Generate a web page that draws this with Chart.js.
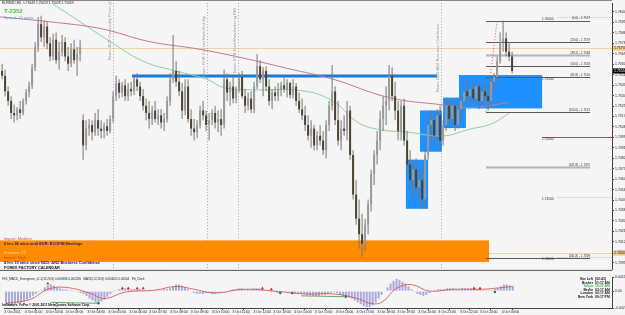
<!DOCTYPE html>
<html><head><meta charset="utf-8">
<script src="https://cdn.jsdelivr.net/npm/chart.js@4.4.1/dist/chart.umd.min.js"></script>
<style>
html,body{margin:0;padding:0;background:#f5f5f5;}
#wrap{position:relative;width:625px;height:315px;overflow:hidden;background:#f5f5f5;}
canvas{position:absolute;left:0;}
#c1{top:0;}#c2{top:273px;}
</style></head><body>
<div id="wrap"><canvas id="c1" width="625" height="273"></canvas><canvas id="c2" width="625" height="42"></canvas></div>
<script>
// ---------------- DATA ----------------
const symbolInfo = "EURNZD,M5  1.75649 1.75659 1.75628 1.75639";
const timerText = "T-2352";
const spreadText = "Spread: 19 points";

const opens = [1.7555,1.7551,1.7538,1.7530,1.7520,1.7518,1.7523,1.7520,1.7530,1.7537,
1.7543,1.7558,1.7575,1.7594,1.7583,1.7592,1.7578,1.7567,1.7581,1.7564,
1.7571,1.7579,1.7567,1.7561,1.7573,1.7564,1.7569,1.7514,1.7493,1.7507,
1.7510,1.7504,1.7514,1.7507,1.7505,1.7509,1.7505,1.7515,1.7534,1.7545,
1.7537,1.7543,1.7534,1.7540,1.7538,1.7548,1.7542,1.7534,1.7526,1.7520,
1.7515,1.7522,1.7515,1.7518,1.7512,1.7515,1.7530,1.7548,1.7555,1.7546,
1.7538,1.7522,1.7542,1.7515,1.7507,1.7504,1.7510,1.7522,1.7518,1.7510,
1.7514,1.7520,1.7512,1.7515,1.7510,1.7548,1.7537,1.7542,1.7532,1.7540,
1.7550,1.7534,1.7526,1.7532,1.7523,1.7542,1.7559,1.7548,1.7555,1.7542,
1.7530,1.7537,1.7534,1.7540,1.7543,1.7540,1.7545,1.7535,1.7542,1.7530,
1.7523,1.7518,1.7510,1.7501,1.7507,1.7493,1.7501,1.7497,1.7489,1.7510,
1.7526,1.7538,1.7514,1.7497,1.7507,1.7505,1.7522,1.7485,1.7452,1.7432,
1.7419,1.7411,1.7427,1.7444,1.7469,1.7485,1.7497,1.7515,1.7526,1.7530,
1.7551,1.7534,1.7522,1.7505,1.7526,1.7497,1.7477,1.7464,1.7473,1.7458,
1.7464,1.7448,1.7485,1.7510,1.7514,1.7501,1.7518,1.7497,1.7510,1.7526,
1.7515,1.7526,1.7510,1.7523,1.7530,1.7538,1.7534,1.7540,1.7532,1.7542,
1.7530,1.7538,1.7534,1.7530,1.7546,1.7550,1.7563,1.7579,1.7582,1.7571,
1.7567];
const highs = [1.7561,1.7556,1.7542,1.7534,1.7527,1.7525,1.7530,1.7532,1.7540,1.7546,
1.7561,1.7579,1.7600,1.7601,1.7597,1.7596,1.7583,1.7586,1.7587,1.7579,
1.7585,1.7583,1.7575,1.7578,1.7581,1.7575,1.7581,1.7519,1.7514,1.7515,
1.7514,1.7520,1.7523,1.7514,1.7512,1.7515,1.7518,1.7538,1.7551,1.7548,
1.7546,1.7548,1.7545,1.7546,1.7551,1.7553,1.7546,1.7540,1.7532,1.7530,
1.7526,1.7530,1.7523,1.7523,1.7520,1.7534,1.7553,1.7585,1.7563,1.7555,
1.7545,1.7548,1.7548,1.7523,1.7515,1.7514,1.7526,1.7530,1.7522,1.7520,
1.7523,1.7526,1.7522,1.7523,1.7556,1.7553,1.7546,1.7551,1.7542,1.7553,
1.7555,1.7540,1.7537,1.7538,1.7546,1.7569,1.7564,1.7558,1.7559,1.7548,
1.7540,1.7542,1.7545,1.7546,1.7550,1.7548,1.7546,1.7548,1.7545,1.7537,
1.7532,1.7526,1.7518,1.7514,1.7510,1.7505,1.7510,1.7505,1.7514,1.7530,
1.7560,1.7542,1.7530,1.7514,1.7518,1.7530,1.7526,1.7489,1.7464,1.7448,
1.7436,1.7432,1.7448,1.7473,1.7489,1.7505,1.7522,1.7534,1.7542,1.7560,
1.7558,1.7546,1.7530,1.7530,1.7532,1.7505,1.7489,1.7481,1.7482,1.7473,
1.7477,1.7489,1.7518,1.7522,1.7520,1.7523,1.7526,1.7514,1.7530,1.7532,
1.7530,1.7530,1.7528,1.7534,1.7542,1.7548,1.7542,1.7545,1.7546,1.7545,
1.7542,1.7546,1.7542,1.7550,1.7553,1.7567,1.7587,1.7597,1.7587,1.7578,
1.7571];
const lows = [1.7548,1.7534,1.7526,1.7515,1.7512,1.7514,1.7515,1.7518,1.7527,1.7533,
1.7540,1.7555,1.7571,1.7579,1.7575,1.7573,1.7563,1.7564,1.7561,1.7556,
1.7567,1.7563,1.7555,1.7558,1.7561,1.7551,1.7563,1.7481,1.7489,1.7501,
1.7497,1.7501,1.7501,1.7499,1.7499,1.7501,1.7503,1.7512,1.7530,1.7532,
1.7533,1.7530,1.7530,1.7534,1.7535,1.7538,1.7530,1.7522,1.7514,1.7507,
1.7510,1.7512,1.7510,1.7507,1.7505,1.7512,1.7526,1.7545,1.7542,1.7534,
1.7515,1.7518,1.7512,1.7501,1.7497,1.7499,1.7507,1.7514,1.7505,1.7497,
1.7510,1.7507,1.7504,1.7501,1.7507,1.7530,1.7526,1.7528,1.7528,1.7537,
1.7532,1.7520,1.7522,1.7520,1.7520,1.7540,1.7545,1.7534,1.7538,1.7526,
1.7523,1.7530,1.7530,1.7534,1.7537,1.7533,1.7532,1.7532,1.7526,1.7520,
1.7514,1.7505,1.7497,1.7491,1.7489,1.7489,1.7493,1.7485,1.7482,1.7505,
1.7522,1.7510,1.7493,1.7489,1.7501,1.7497,1.7481,1.7448,1.7427,1.7407,
1.7400,1.7405,1.7419,1.7438,1.7460,1.7477,1.7489,1.7505,1.7510,1.7522,
1.7530,1.7514,1.7497,1.7497,1.7493,1.7473,1.7456,1.7448,1.7452,1.7444,
1.7440,1.7440,1.7481,1.7497,1.7493,1.7497,1.7489,1.7493,1.7505,1.7510,
1.7512,1.7505,1.7507,1.7514,1.7526,1.7530,1.7526,1.7530,1.7528,1.7523,
1.7526,1.7528,1.7522,1.7526,1.7538,1.7546,1.7561,1.7571,1.7567,1.7563,
1.7553];
const closes = [1.7551,1.7538,1.7530,1.7520,1.7518,1.7523,1.7520,1.7530,1.7537,1.7543,
1.7558,1.7575,1.7594,1.7583,1.7592,1.7578,1.7567,1.7581,1.7564,1.7571,
1.7579,1.7567,1.7561,1.7573,1.7564,1.7569,1.7575,1.7493,1.7507,1.7510,
1.7504,1.7514,1.7507,1.7505,1.7509,1.7505,1.7515,1.7534,1.7545,1.7537,
1.7543,1.7534,1.7540,1.7538,1.7548,1.7542,1.7534,1.7526,1.7520,1.7515,
1.7522,1.7515,1.7518,1.7512,1.7515,1.7530,1.7548,1.7555,1.7546,1.7538,
1.7522,1.7542,1.7515,1.7507,1.7504,1.7510,1.7522,1.7518,1.7510,1.7514,
1.7520,1.7512,1.7515,1.7510,1.7548,1.7537,1.7542,1.7532,1.7540,1.7550,
1.7534,1.7526,1.7532,1.7523,1.7542,1.7559,1.7548,1.7555,1.7542,1.7530,
1.7537,1.7534,1.7540,1.7543,1.7540,1.7545,1.7535,1.7542,1.7530,1.7523,
1.7518,1.7510,1.7501,1.7507,1.7493,1.7501,1.7497,1.7489,1.7510,1.7526,
1.7538,1.7514,1.7497,1.7507,1.7505,1.7522,1.7485,1.7452,1.7432,1.7419,
1.7411,1.7427,1.7444,1.7469,1.7485,1.7497,1.7515,1.7526,1.7530,1.7551,
1.7534,1.7522,1.7505,1.7526,1.7497,1.7477,1.7464,1.7473,1.7458,1.7464,
1.7448,1.7485,1.7510,1.7514,1.7501,1.7518,1.7497,1.7510,1.7526,1.7515,
1.7526,1.7510,1.7523,1.7530,1.7538,1.7534,1.7540,1.7532,1.7542,1.7530,
1.7538,1.7534,1.7530,1.7546,1.7550,1.7563,1.7579,1.7582,1.7571,1.7567,
1.7555];

// moving averages read at sample bars
const slowMaBars = [-0.7,16,33,49,66,82,96,110,129,146,156,169];
const slowMa = [1.7600,1.75959,1.75902,1.75795,1.7573,1.75648,1.75566,1.75484,1.75328,1.7527,1.75246,1.75287];
const fastMaBars = [17,26,36,47,58,68,74,83,100,110,119,127,135,147,156,163,169];
const fastMa = [1.76107,1.75959,1.75795,1.75631,1.75549,1.75484,1.7541,1.75393,1.75385,1.75303,1.75115,1.75057,1.75041,1.75008,1.75066,1.75107,1.75197];

// price scale ticks
const priceTicks = [1.76041,1.75954,1.75867,1.75780,1.75693,1.75606,1.75519,1.75432,1.75345,1.75258,1.75171,1.75084,1.74997,1.74910,1.74823,1.74736,1.74649,1.74562,1.74475,1.74388,1.74301,1.74214,1.74127,1.74040,1.73953];
const dayHigh = 1.75738, dayLow = 1.74033;

// zones
const boxStart = [134.6,139.3,147,152.3];
const boxEnd   = [142,146.6,154.6,180];
const boxTop   = [1.74811,1.75221,1.75328,1.75516];
const boxBottom= [1.74402,1.74877,1.75074,1.75238];
const srLine = {from:43.3, to:145, price:1.75508};
const calBox = {from:-0.7, to:162.3, top:1.74139, bottom:1.73959};

// fibonacci
const fibLevels = [0,23.6,38.2,50,61.8,100,161.8,261.8];
const fibPrices = [1.7597,1.7579,1.7568,1.7559,1.7550,1.7521,1.7475,1.7399];
const fibFrom = 161.3, fibTo = 196;
const fibTrendBars = [161.3,165], fibTrendPrices = [1.7521,1.7597];

// round levels
const roundLevels = [1.76,1.755,1.75,1.745,1.74];
const roundLabelBar = 180;

// news lines
const newsBars = [37,68.3,78.6,146.3];
const newsTitles = ["News: AUD Commodity Prices y/y","News: EUR German Bank Holiday","News: EUR Final Manufacturing PMI","News: NZD ANZ Business Confidence"];

// calendar text
const calLines = ["Impact: Medium","6 hrs 58 mins until EUR: ECOFIN Meetings","Previous: 27","Impact: High","4 hrs 19 mins since NZD: ANZ Business Confidence","FOREX FACTORY CALENDAR"];

// MACD indicator
const hist = [-0.0021,-0.00225,-0.00225,-0.0021,-0.00195,-0.0018,-0.00165,-0.00135,-0.00105,-0.00075,-0.00045,-0.00015,0.00015,
0.0006,0.0009,0.00105,0.0009,0.0006,
0.00045,0.0003,0.0003,0.00015,0.00015,0,-0.00015,-0.0003,-0.00045,
-0.00075,-0.0012,-0.0015,-0.0018,-0.0018,-0.00165,-0.00135,-0.0009,-0.00045,-0.00015,
0.00015,0.0003,0.00045,0.00045,0.00045,0.0003,0.0003,0.0003,0.0003,0.00015,0.00015,0.00015,0,0,0.00015,0.00015,0.0003,0.0003,0.00045,
0.00075,0.00105,0.00105,0.0009,0.0006,0.0003,0,
-0.0003,-0.00045,-0.00045,-0.00045,-0.0003,-0.0003,-0.00045,-0.00045,-0.0003,-0.0003,-0.00015,0,0.00015,
0.0003,0.0003,0.00045,0.00045,0.0003,0.0003,0.0003,0.00045,0.00045,0.00045,0.0003,
0.00015,0,-0.00015,-0.00015,-0.0003,-0.0003,-0.00015,-0.00015,-0.00015,-0.0003,-0.0003,-0.0003,-0.00045,
-0.00045,-0.0006,-0.0006,-0.00075,-0.00075,-0.00075,-0.0006,-0.0006,-0.00045,-0.0003,-0.00015,-0.0003,-0.0006,-0.00075,-0.0009,
-0.00105,-0.0012,-0.0015,-0.0018,-0.0021,-0.0024,-0.00255,-0.00255,-0.00225,-0.0018,-0.0012,-0.0006,
0,0.0006,0.0012,0.00165,0.00195,0.0018,0.0015,
0.0012,0.00075,0.0003,-0.00015,-0.00045,-0.0006,-0.00075,-0.0006,
-0.0003,0,0.00015,0.0003,0.0003,0.0003,0.00045,0.00045,0.00045,0.0003,0.0003,0.00045,0.00045,0.00045,0.00045,0.0003,0.0003,0.0003,0.00015,0.00015,0.00015,0.00015,0.0003,0.00045,0.00075,0.00105,0.00105,0.0009,0.00075];
const signalBars = [0,8,14,20,28,33,40,50,57,63,70,80,90,100,110,118,122,126,131,136,142,150,160,167,170];
const signal = [-0.00195,-0.00135,0.0003,0.0006,-0.0003,-0.0012,-0.00015,0.00015,0.00075,0.0003,-0.0003,0.0003,0,-0.00045,-0.00045,-0.0012,-0.00195,-0.0018,0.00045,0.00105,0,0.0003,0.0003,0.0006,0.00075];
const upArrowBars = [14,39,41,44,46,86,89,157,159];
const upArrowVals = [0.0012,0.00045,0.00045,0.00045,0.00045,0.00045,0.0003,0.00045,0.00045];
const dotBars = [31,92,96,114,164];
const dotVals = [-0.00195,-0.0003,-0.0003,-0.0009,-0.00015];
const divGreenA = {bars:[15,31], vals:[-0.0018,-0.00195]};
const divGreenB = {bars:[99,114], vals:[-0.00075,-0.0009]};
const indTicks = [0.002257,0,-0.0027];
const indTitle = "FX5_MACD_Divergence_v1.1(12,26,9) 0.000968 0.000236   MACD(12,26,9) 0.000662 0.00064   Pd_Clock";
const copyText = "Indicators: FxPro © 2001-2011 MetaQuotes Software Corp.";
const clockNames = ["Bar Left","Broker","Tokyo","Berlin","London","New York"];
const clockTimes = ["[02:43]","01:17 AM","10:17 AM","03:17 AM","02:17 AM","09:17 PM"];

const timeTickBars = [-0.6,6.3,13.3,20,27.3,34.3,41.3,48,55,62,69,76,83,89.6,96.6,103.6,110.6,117.6,124.6,131.3,138.3,145,152.3,159,166.3];
const timeLabels = ["3 Oct 2011","3 Oct 01:00","3 Oct 02:00","3 Oct 03:00","3 Oct 04:00","3 Oct 05:00","3 Oct 06:00","3 Oct 07:00","3 Oct 08:00","3 Oct 09:00","3 Oct 10:00","3 Oct 11:00","3 Oct 12:00","3 Oct 13:00","3 Oct 14:00","3 Oct 15:00","3 Oct 16:00","3 Oct 17:00","3 Oct 18:00","3 Oct 19:00","3 Oct 20:00","3 Oct 21:00","3 Oct 22:00","3 Oct 23:00","4 Oct 00:00"];

// ---------------- RENDER ----------------
const F = '"Liberation Sans", Arial, sans-serif';
const X0 = -0.7, X1 = 203.3;
function font(size, bold){return (bold?'bold ':'')+size+'px '+F;}
function txt(c,s,x,y,size,color,bold,align,base){c.font=font(size,bold);c.fillStyle=color;c.textAlign=align||'left';c.textBaseline=base||'middle';c.fillText(s,x,y);}

const bgPlugin = {id:'bg', beforeDraw(ch){const c=ch.ctx;c.save();c.fillStyle='#f5f5f5';c.fillRect(0,0,ch.width,ch.height);c.restore();}};

const mainPlugin = {
  id:'mainDecor',
  beforeDatasetsDraw(ch){
    const c=ch.ctx,a=ch.chartArea,X=ch.scales.x,Y=ch.scales.y;
    const fx=v=>X.getPixelForValue(v), fy=v=>Y.getPixelForValue(v);
    c.save();c.beginPath();c.rect(a.left,a.top,a.right-a.left,a.bottom-a.top);c.clip();
    c.strokeStyle='#f2d2a8';c.lineWidth=1;
    [dayHigh,dayLow].forEach(p=>{const y=Math.round(fy(p))+0.5;c.beginPath();c.moveTo(a.left,y);c.lineTo(a.right,y);c.stroke();});
    c.strokeStyle='#a8a8c8';c.setLineDash([1,2]);
    newsBars.forEach(b=>{const x=Math.round(fx(b))+0.5;c.beginPath();c.moveTo(x,a.top);c.lineTo(x,a.bottom);c.stroke();});
    c.setLineDash([]);
    c.fillStyle='#ff8c00';
    c.fillRect(fx(calBox.from),fy(calBox.top),fx(calBox.to)-fx(calBox.from),fy(calBox.bottom)-fy(calBox.top));
    c.fillStyle='#1e90ff';
    boxStart.forEach((s,i)=>{c.fillRect(fx(s),fy(boxTop[i]),fx(boxEnd[i])-fx(s),fy(boxBottom[i])-fy(boxTop[i]));});
    c.strokeStyle='#1a7ad8';c.lineWidth=3;
    c.beginPath();c.moveTo(fx(srLine.from),fy(srLine.price));c.lineTo(fx(srLine.to),fy(srLine.price));c.stroke();
    roundLevels.forEach((p,i)=>{
      const y=Math.round(fy(p))+0.5;
      if(i===2){c.strokeStyle='#a0506a';c.setLineDash([]);c.lineWidth=1;}
      else if(i===1){return;}
      else {c.strokeStyle='#c4c4c4';c.setLineDash([1,1]);c.lineWidth=1;}
      c.beginPath();c.moveTo(fx(roundLabelBar)+(i===2?0:15),y);c.lineTo(a.right,y);c.stroke();
    });
    c.setLineDash([]);
    fibLevels.forEach((l,i)=>{
      const y=Math.round(fy(fibPrices[i]))+0.5;
      const light=(l===38.2||l===161.8);
      c.strokeStyle=light?'#b4b4b4':'#5a5a5a';c.lineWidth=light?2:1;
      c.beginPath();c.moveTo(fx(fibFrom),y);c.lineTo(fx(fibTo),y);c.stroke();
    });
    c.strokeStyle='#e05050';c.lineWidth=1;c.setLineDash([1,2]);
    c.beginPath();c.moveTo(fx(fibTrendBars[0]),fy(fibTrendPrices[0]));c.lineTo(fx(fibTrendBars[1]),fy(fibTrendPrices[1]));c.stroke();
    c.setLineDash([]);
    c.restore();
  },
  afterDatasetsDraw(ch){
    const c=ch.ctx,a=ch.chartArea,X=ch.scales.x,Y=ch.scales.y;
    const fx=v=>X.getPixelForValue(v), fy=v=>Y.getPixelForValue(v);
    c.save();
    fibLevels.forEach((l,i)=>{txt(c,'('+l.toFixed(1)+') - '+fibPrices[i].toFixed(4),fx(fibTo),fy(fibPrices[i])-0.5,3,'#333',false,'right','bottom');});
    roundLevels.forEach(p=>{txt(c,p.toFixed(5),fx(roundLabelBar),fy(p)+0.5,3.2,'#333',false,'left','top');});
    newsBars.forEach((b,i)=>{
      c.save();c.translate(fx(b)-1,[60,77,73,92][i]);c.rotate(-Math.PI/2);
      txt(c,newsTitles[i],0,0,4,'#9c9c9c',false,'left','bottom');c.restore();
    });
    txt(c,symbolInfo,2,3.5,3.3,'#222');
    txt(c,timerText,4,11,6,'#4cc63c',true);
    txt(c,spreadText,4,18,3.8,'#6a9ccc');
    const cy=[239,244,253,258,263,267.5];
    const cc=['#e8405a','#1c1c7a','#ffd6a0','#ff2a2a','#1c1c7a','#111'];
    const cb=[false,true,false,false,true,true];
    calLines.forEach((s,i)=>txt(c,s,4,cy[i],3.9,cc[i],cb[i]));
    c.strokeStyle='#555';c.lineWidth=1;
    c.beginPath();c.moveTo(0,a.bottom+0.5);c.lineTo(a.right,a.bottom+0.5);c.stroke();
    c.strokeStyle='#888';
    c.beginPath();c.moveTo(0,0.5);c.lineTo(a.right,0.5);c.stroke();
    const hl=[[dayHigh,'#f2c98c','#222'],[closes[closes.length-1],'#000','#fff'],[dayLow,'#f2c98c','#222']];
    hl.forEach(h=>{const y=fy(h[0]);c.fillStyle=h[1];c.fillRect(a.right+1,y-2.5,14,5);txt(c,h[0].toFixed(5),a.right+2,y,3.5,h[2]);});
    c.restore();
  }
};

new Chart(document.getElementById('c1'),{
  type:'bar',
  data:{datasets:[
    {label:'body',data:opens.map((o,i)=>({x:i,y:[Math.min(o,closes[i]),Math.max(o,closes[i])]})),
     backgroundColor:ctx=>closes[ctx.dataIndex]>=opens[ctx.dataIndex]?'#9a9a9a':'#4d4232',
     borderWidth:0,barThickness:2,grouped:false,minBarLength:1,inflateAmount:0,order:1},
    {label:'wick',data:lows.map((l,i)=>({x:i,y:[l,highs[i]]})),backgroundColor:'#767676',
     borderWidth:0,barThickness:1,grouped:false,inflateAmount:0,order:2},
    {type:'line',label:'slow',data:slowMaBars.map((b,i)=>({x:b,y:slowMa[i]})),borderColor:'#c47a86',borderWidth:1,pointRadius:0,tension:0.4,order:3},
    {type:'line',label:'fast',data:fastMaBars.map((b,i)=>({x:b,y:fastMa[i]})),borderColor:'#90cfa6',borderWidth:1,pointRadius:0,tension:0.4,order:3}
  ]},
  options:{responsive:false,animation:false,devicePixelRatio:1,
    layout:{padding:{top:1,bottom:1,left:0,right:0}},
    plugins:{legend:{display:false},tooltip:{enabled:false}},
    scales:{
      x:{type:'linear',min:X0,max:X1,display:false,offset:false},
      y:{position:'right',min:1.73893,max:1.76115,
        afterFit:s=>{s.width=13;},
        afterBuildTicks:s=>{s.ticks=priceTicks.map(v=>({value:v}));},
        ticks:{font:{size:3.5,family:F},color:'#222',padding:1,autoSkip:false,callback:v=>Number(v).toFixed(5)},
        grid:{drawOnChartArea:false,tickLength:2,color:'#444'},border:{color:'#444'}}
    }},
  plugins:[bgPlugin,mainPlugin]
});

const indPlugin = {
  id:'indDecor',
  afterDatasetsDraw(ch){
    const c=ch.ctx,a=ch.chartArea;
    c.save();
    txt(c,indTitle,2,a.top+2.5,3,'#222');
    txt(c,copyText,2,a.bottom-2.5,3.2,'#111',true);
    clockNames.forEach((n,i)=>{
      const y=a.top+2+i*3.6;
      const col=i===2?'#3cb44a':'#1a1a1a';
      txt(c,n,593,y,3.4,col,true,'right');
      txt(c,clockTimes[i],595,y,3.4,col,true,'left');
    });
    c.restore();
  }
};

new Chart(document.getElementById('c2'),{
  type:'bar',
  data:{datasets:[
    {type:'line',label:'divA',data:divGreenA.bars.map((b,i)=>({x:b,y:divGreenA.vals[i]})),borderColor:'#3a9a3a',borderWidth:0.8,pointRadius:0,order:0},
    {type:'line',label:'divB',data:divGreenB.bars.map((b,i)=>({x:b,y:divGreenB.vals[i]})),borderColor:'#3a9a3a',borderWidth:0.8,pointRadius:0,order:0},
    {type:'line',label:'up',data:upArrowBars.map((b,i)=>({x:b,y:upArrowVals[i]})),showLine:false,pointStyle:'triangle',pointRadius:1.8,backgroundColor:'#e02828',borderColor:'#e02828',borderWidth:0,order:0},
    {type:'line',label:'dn',data:dotBars.map((b,i)=>({x:b,y:dotVals[i]})),showLine:false,pointStyle:'circle',pointRadius:1.3,backgroundColor:'#1f8a2a',borderColor:'#1f8a2a',borderWidth:0,order:0},
    {type:'line',label:'signal',data:signalBars.map((b,i)=>({x:b,y:signal[i]})),borderColor:'#e04646',borderWidth:0.8,pointRadius:0,tension:0.4,order:1},
    {label:'hist',data:hist.map((v,i)=>({x:i,y:v})),backgroundColor:'#a6a9da',borderWidth:0,barThickness:2,grouped:false,inflateAmount:0,order:3}
  ]},
  options:{responsive:false,animation:false,devicePixelRatio:1,
    layout:{padding:{top:2,bottom:0,left:0,right:0}},
    plugins:{legend:{display:false},tooltip:{enabled:false}},
    scales:{
      x:{type:'linear',min:X0,max:X1,position:'bottom',offset:false,
        afterFit:s=>{s.height=7;},
        afterBuildTicks:s=>{s.ticks=timeTickBars.map(v=>({value:v}));},
        ticks:{font:{size:3.4,family:F},color:'#222',align:'start',maxRotation:0,minRotation:0,autoSkip:false,padding:0.5,
          callback:(v,i)=>timeLabels[i]},
        grid:{drawOnChartArea:false,tickLength:2,color:'#444'},border:{color:'#444'}},
      y:{position:'right',min:-0.0027,max:0.002257,
        afterFit:s=>{s.width=13;},
        afterBuildTicks:s=>{s.ticks=indTicks.map(v=>({value:v}));},
        ticks:{font:{size:3.4,family:F},color:'#222',padding:1,autoSkip:false,callback:v=>v===0?'0.00':Number(v).toFixed(6)},
        grid:{drawOnChartArea:false,tickLength:2,color:'#444'},border:{color:'#444'}}
    }},
  plugins:[bgPlugin,indPlugin]
});
</script>
</body></html>
